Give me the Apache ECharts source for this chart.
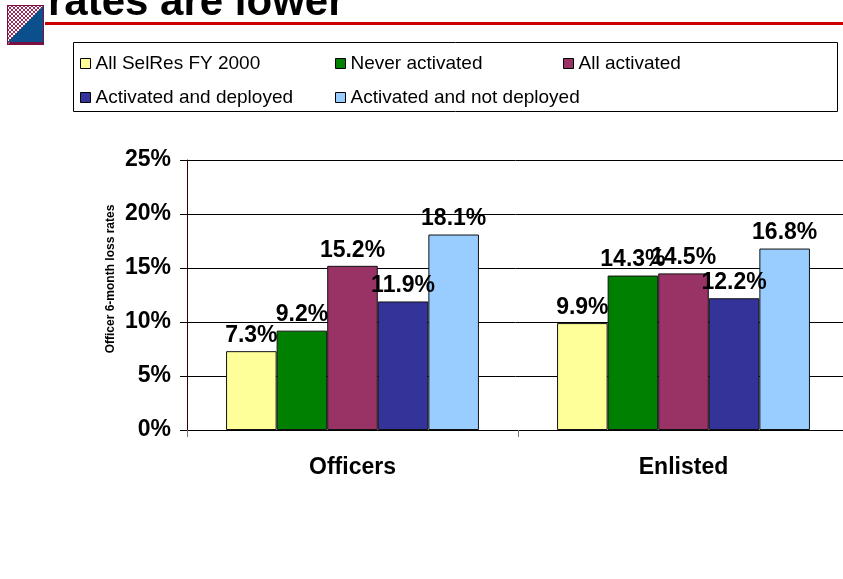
<!DOCTYPE html>
<html>
<head>
<meta charset="utf-8">
<script src="https://cdn.jsdelivr.net/npm/echarts@6/dist/echarts.min.js"></script>
<style>
  html, body { margin: 0; padding: 0; background: #fff; }
  #main { width: 843px; height: 579px; }
</style>
</head>
<body>
<div id="main"></div>
<script>
// data
const categories = ['Officers', 'Enlisted']
const allSelRes = [7.3, 9.9]
const neverActivated = [9.2, 14.3]
const allActivated = [15.2, 14.5]
const activatedDeployed = [11.9, 12.2]
const activatedNotDeployed = [18.1, 16.8]
const yTicks = [0, 5, 10, 15, 20, 25]

const font = "'Liberation Sans', Arial, sans-serif"

// little checker pattern for the corner logo
const pat = document.createElement('canvas')
pat.width = 4
pat.height = 4
const pc = pat.getContext('2d')
pc.fillStyle = '#ffffff'
pc.fillRect(0, 0, 4, 4)
pc.fillStyle = '#9b2a5a'
pc.fillRect(0, 0, 2, 2)
pc.fillRect(2, 2, 2, 2)

function bar(name, data, color) {
  return {
    name: name,
    type: 'bar',
    data: data,
    barGap: 0,
    barCategoryGap: '23.6%',
    itemStyle: { color: color, borderColor: '#111', borderWidth: 1 },
    label: {
      show: true,
      position: 'top',
      distance: 4,
      fontFamily: font,
      fontWeight: 'bold',
      fontSize: 23,
      color: '#000',
      formatter: p => p.value.toFixed(1) + '%'
    }
  }
}

const legendBase = {
  orient: 'vertical',
  itemWidth: 10,
  itemHeight: 10,
  itemGap: 15,
  icon: 'rect',
  itemStyle: { borderColor: '#000', borderWidth: 1 },
  textStyle: { fontFamily: font, fontSize: 19, color: '#000' },
  selectedMode: false
}

const myChart = echarts.init(document.getElementById('main'))

const options = {
  animation: false,
  backgroundColor: '#fff',
  textStyle: { fontFamily: font },
  legend: [
    Object.assign({}, legendBase, { left: 75, top: 49, data: ['All SelRes FY 2000', 'Activated and deployed'] }),
    Object.assign({}, legendBase, { left: 330, top: 49, data: ['Never activated', 'Activated and not deployed'] }),
    Object.assign({}, legendBase, { left: 558, top: 49, data: ['All activated'] })
  ],
  grid: { left: 187, top: 160, right: -6, bottom: 149, outerBoundsMode: 'none' },
  xAxis: {
    type: 'category',
    data: categories,
    axisLine: { lineStyle: { color: '#000', width: 1 } },
    axisTick: { show: true, length: 7, lineStyle: { color: '#777' } },
    axisLabel: { margin: 26, fontFamily: font, fontWeight: 'bold', fontSize: 23, color: '#000' }
  },
  yAxis: {
    type: 'value',
    min: yTicks[0],
    max: yTicks[yTicks.length - 1],
    interval: 5,
    name: 'Officer 6-month loss rates',
    nameLocation: 'middle',
    nameGap: 70,
    nameMoveOverlap: false,
    nameTextStyle: { fontFamily: font, fontWeight: 'bold', fontSize: 12, color: '#000', padding: [0, 0, 0, 32] },
    axisLine: { show: true, lineStyle: { color: '#300', width: 1 } },
    axisTick: { show: true, length: 7, lineStyle: { color: '#000' } },
    splitLine: { lineStyle: { color: '#000', width: 1 } },
    axisLabel: {
      margin: 16,
      padding: [4, 0, 0, 0],
      fontFamily: font,
      fontWeight: 'bold',
      fontSize: 23,
      color: '#000',
      formatter: '{value}%'
    }
  },
  graphic: [
    {
      type: 'text',
      left: 48,
      top: -18,
      style: { text: 'rates are lower', fontFamily: font, fontWeight: 'bold', fontSize: 42, fill: '#000' }
    },
    {
      type: 'rect',
      shape: { x: 45, y: 22, width: 800, height: 3 },
      style: { fill: '#cc0000' }
    },
    {
      type: 'group',
      x: 7,
      y: 5,
      children: [
        { type: 'rect', shape: { x: 0, y: 0, width: 37, height: 40 }, style: { fill: '#7a1040' } },
        { type: 'polygon', shape: { points: [[1, 1], [36, 1], [1, 39]] }, style: { fill: { image: pat, repeat: 'repeat' } } },
        { type: 'polygon', shape: { points: [[36, 1], [36, 37], [1, 37]] }, style: { fill: '#0b4f8c' } }
      ]
    },
    {
      type: 'rect',
      z: -1,
      shape: { x: 73.5, y: 42.5, width: 764, height: 69 },
      style: { fill: '#fff', stroke: '#000', lineWidth: 1 }
    }
  ],
  series: [
    bar('All SelRes FY 2000', allSelRes, '#FFFF99'),
    bar('Never activated', neverActivated, '#008000'),
    bar('All activated', allActivated, '#993366'),
    bar('Activated and deployed', activatedDeployed, '#333399'),
    bar('Activated and not deployed', activatedNotDeployed, '#99CCFF')
  ]
}

myChart.setOption(options)
</script>
</body>
</html>
